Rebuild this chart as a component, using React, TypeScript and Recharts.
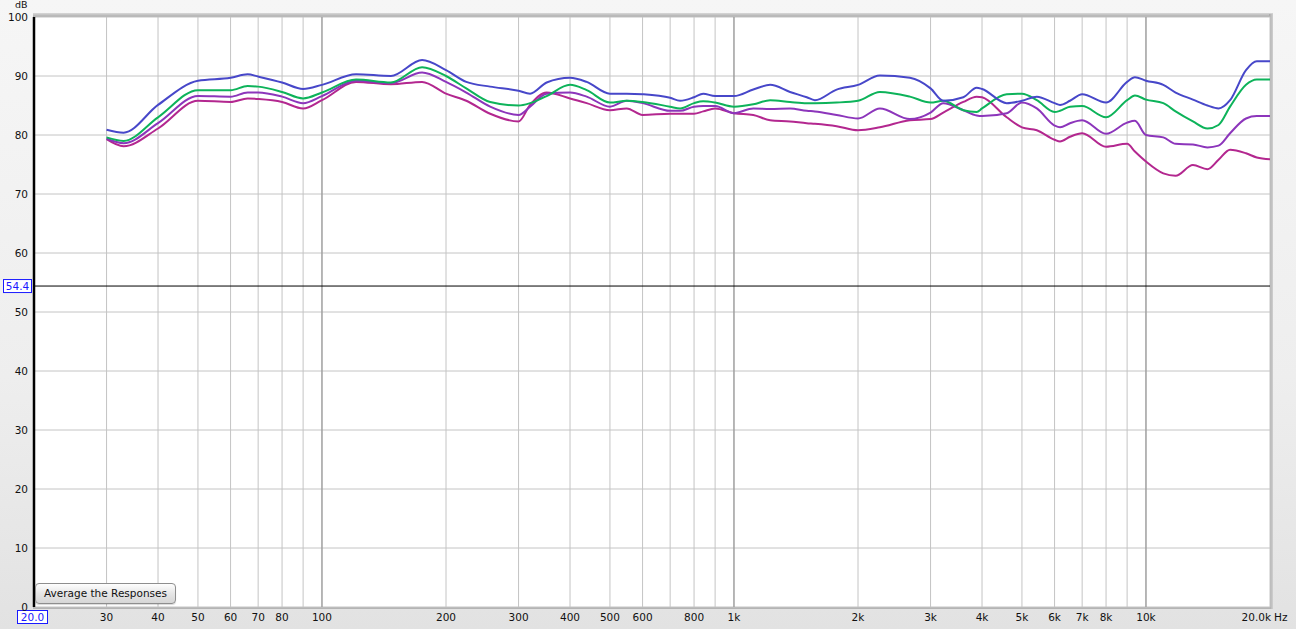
import React from 'react';
import { LineChart, Line, XAxis, YAxis, CartesianGrid, ReferenceLine } from 'recharts';

const freqs = [30, 33, 40, 50, 60, 66, 70, 80, 90, 100, 121, 147, 175, 200, 224, 256, 300, 320, 351, 400, 439, 500, 549, 600, 700, 740, 800, 842, 900, 1000, 1114, 1224, 1368, 1502, 1572, 1775, 2000, 2260, 2673, 3000, 3221, 3603, 3882, 4000, 4592, 5000, 5433, 6000, 6186, 6540, 7000, 8000, 9000, 9400, 10000, 11016, 11800, 13000, 14100, 15000, 16000, 17490, 18575, 20000];

const blueVals = [80.9, 80.4, 85.1, 89.2, 89.7, 90.3, 89.9, 88.9, 87.8, 88.5, 90.3, 90.0, 92.7, 91.0, 89.0, 88.2, 87.5, 87.0, 88.9, 89.7, 89.0, 87.0, 87.0, 86.9, 86.3, 85.8, 86.4, 87.0, 86.6, 86.6, 87.7, 88.5, 87.3, 86.4, 85.9, 87.7, 88.5, 90.1, 89.7, 87.9, 85.8, 86.4, 88.0, 87.8, 85.4, 85.8, 86.5, 85.4, 85.1, 85.8, 86.9, 85.5, 89.0, 89.8, 89.2, 88.5, 87.2, 86.0, 85.0, 84.5, 85.9, 91.0, 92.5, 92.5];

const greenVals = [79.6, 79.0, 83.0, 87.6, 87.6, 88.3, 88.2, 87.3, 86.2, 87.2, 89.4, 88.9, 91.5, 90.0, 87.9, 85.6, 85.0, 85.4, 86.6, 88.5, 87.6, 85.5, 85.8, 85.6, 84.8, 84.5, 85.4, 85.7, 85.5, 84.8, 85.2, 85.9, 85.6, 85.4, 85.4, 85.5, 85.8, 87.3, 86.5, 85.5, 85.8, 84.2, 83.9, 84.5, 86.9, 87.0, 85.9, 83.9, 84.1, 84.8, 84.9, 83.0, 85.9, 86.7, 86.0, 85.4, 84.0, 82.3, 81.1, 81.7, 84.8, 88.5, 89.4, 89.4];

const purpleVals = [79.4, 78.6, 82.0, 86.6, 86.5, 87.2, 87.2, 86.5, 85.4, 86.6, 89.2, 88.8, 90.6, 89.0, 87.2, 84.8, 83.4, 84.8, 87.0, 87.2, 86.5, 84.8, 85.8, 85.4, 84.1, 84.1, 84.8, 84.9, 84.9, 83.7, 84.5, 84.4, 84.5, 84.1, 84.0, 83.4, 82.8, 84.5, 82.7, 83.8, 85.4, 84.2, 83.3, 83.2, 83.7, 85.5, 84.5, 81.6, 81.3, 82.0, 82.5, 80.2, 82.1, 82.4, 80.0, 79.6, 78.5, 78.4, 77.9, 78.2, 80.3, 82.8, 83.2, 83.2];

const magentaVals = [79.3, 78.1, 81.1, 85.8, 85.6, 86.2, 86.1, 85.6, 84.5, 85.9, 89.0, 88.6, 89.0, 87.0, 85.8, 83.6, 82.3, 85.1, 87.2, 86.2, 85.4, 84.2, 84.5, 83.4, 83.6, 83.6, 83.6, 84.0, 84.5, 83.7, 83.4, 82.5, 82.3, 82.0, 81.9, 81.5, 80.8, 81.3, 82.5, 82.7, 83.8, 85.6, 86.5, 86.4, 83.0, 81.3, 80.8, 79.2, 78.9, 79.7, 80.3, 78.0, 78.5, 77.2, 75.5, 73.5, 73.1, 74.9, 74.2, 75.8, 77.5, 76.9, 76.2, 75.9];

const xTicks = [20, 30, 40, 50, 60, 70, 80, 90, 100, 200, 300, 400, 500, 600, 700, 800, 900, 1000, 2000, 3000, 4000, 5000, 6000, 7000, 8000, 9000, 10000, 20000];
const xTickLabels: Record<number, string> = {
  20: '20.0', 30: '30', 40: '40', 50: '50', 60: '60', 70: '70', 80: '80', 90: '',
  100: '100', 200: '200', 300: '300', 400: '400', 500: '500', 600: '600', 700: '', 800: '800', 900: '',
  1000: '1k', 2000: '2k', 3000: '3k', 4000: '4k', 5000: '5k', 6000: '6k', 7000: '7k', 8000: '8k', 9000: '',
  10000: '10k', 20000: '20.0k',
};
const decadeLines = [100, 1000, 10000];
const yTicks = [0, 10, 20, 30, 40, 50, 60, 70, 80, 90, 100];
const markerLevel = 54.4;
const yUnit = 'dB';
const xUnit = 'Hz';
const buttonLabel = 'Average the Responses';

const data = freqs.map((f, i) => ({
  f,
  blue: blueVals[i],
  green: greenVals[i],
  purple: purpleVals[i],
  magenta: magentaVals[i],
}));

const FONT = '"DejaVu Sans", sans-serif';

const XTick = (props: any) => {
  const { x, payload } = props;
  const v = payload.value as number;
  const label = xTickLabels[v] ?? '';
  if (v === 20) {
    return (
      <g>
        <rect x={x - 16.5} y={610.5} width={30} height={13} fill="#fff" stroke="#1a1aff" strokeWidth={1} />
        <text x={x - 1.5} y={621} textAnchor="middle" fontSize={10.5} fontFamily={FONT} fill="#1a1aff">{label}</text>
      </g>
    );
  }
  if (v === 20000) {
    return (
      <g>
        <text x={x + 1} y={621} textAnchor="end" fontSize={10.5} fontFamily={FONT} fill="#111">{label}</text>
        <text x={x + 4} y={621} textAnchor="start" fontSize={10.5} fontFamily={FONT} fill="#111">{xUnit}</text>
      </g>
    );
  }
  if (!label) return <g />;
  return (
    <text x={x} y={621} textAnchor="middle" fontSize={10.5} fontFamily={FONT} fill="#111">{label}</text>
  );
};

const MarkerLabel = (props: any) => {
  const vb = props.viewBox || {};
  const y = vb.y ?? 0;
  return (
    <g>
      <rect x={3.5} y={y - 6.5} width={28} height={13} fill="#fff" stroke="#1a1aff" strokeWidth={1} />
      <text x={17.5} y={y + 4} textAnchor="middle" fontSize={10.5} fontFamily={FONT} fill="#1a1aff">{markerLevel}</text>
    </g>
  );
};

export default function App() {
  return (
    <div
      style={{
        position: 'absolute',
        left: 0,
        top: 0,
        width: 1296,
        height: 629,
        background: 'linear-gradient(#f6f6f6 0%, #eeeeee 60%, #e2e2e2 100%)',
        overflow: 'hidden',
        fontFamily: FONT,
      }}
    >
      <div style={{ position: 'absolute', left: 33, top: 13, width: 1240, height: 4, background: 'linear-gradient(#d8d8d8, #a8a8a8)' }} />
      <div style={{ position: 'absolute', left: 1269, top: 14, width: 4, height: 595, background: 'linear-gradient(90deg, #a8a8a8, #d0d0d0)' }} />
      <div style={{ position: 'absolute', left: 33, top: 607, width: 1238, height: 2, background: '#b4b4b4' }} />
      <LineChart
        width={1296}
        height={629}
        data={data}
        margin={{ top: 17, right: 26, bottom: 0, left: 0 }}
        style={{ position: 'absolute', left: 0, top: 0 }}
      >
        <CartesianGrid stroke="#c4c4c4" strokeWidth={1} fill="#ffffff" />
        <XAxis
          dataKey="f"
          type="number"
          scale="log"
          domain={[20, 20000]}
          ticks={xTicks}
          interval={0}
          tick={<XTick />}
          axisLine={false}
          tickLine={false}
          height={22}
          allowDataOverflow
        />
        <YAxis
          type="number"
          domain={[0, 100]}
          ticks={yTicks}
          interval={0}
          width={34}
          axisLine={false}
          tickLine={false}
          tickSize={4}
          tick={{ fontSize: 10.5, fill: '#111', fontFamily: FONT }}
        />
        {decadeLines.map((d) => (
          <ReferenceLine key={d} x={d} stroke="#8c8c8c" strokeWidth={1} />
        ))}
        <ReferenceLine y={markerLevel} stroke="#000" strokeWidth={1} label={<MarkerLabel />} />
        <ReferenceLine x={20} stroke="#000" strokeWidth={2.5} />
        <Line type="monotone" dataKey="magenta" stroke="#b3278f" strokeWidth={2} dot={false} isAnimationActive={false} />
        <Line type="monotone" dataKey="purple" stroke="#8c35bb" strokeWidth={2} dot={false} isAnimationActive={false} />
        <Line type="monotone" dataKey="green" stroke="#0db35a" strokeWidth={2} dot={false} isAnimationActive={false} />
        <Line type="monotone" dataKey="blue" stroke="#4747c9" strokeWidth={2} dot={false} isAnimationActive={false} />
      </LineChart>
      <div style={{ position: 'absolute', left: 15, top: 0, fontSize: 9.5, color: '#111', lineHeight: '10px' }}>{yUnit}</div>
      <div
        style={{
          position: 'absolute',
          left: 35,
          top: 583,
          width: 139,
          height: 19,
          border: '1px solid #8e8e8e',
          borderRadius: 4,
          background: 'linear-gradient(#fefefe, #e6e6e6 50%, #d6d6d6)',
          fontSize: 10.5,
          lineHeight: '19px',
          textAlign: 'center',
          color: '#111',
          boxShadow: '0 1px 1px rgba(0,0,0,0.15)',
        }}
      >
        {buttonLabel}
      </div>
    </div>
  );
}
